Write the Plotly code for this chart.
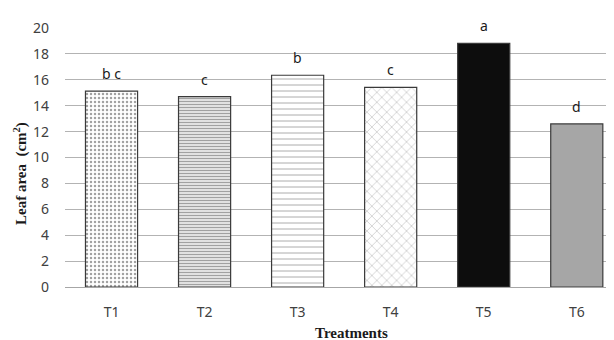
import plotly.graph_objects as go

treatments = ["T1", "T2", "T3", "T4", "T5", "T6"]
leaf_area = [15.13, 14.7, 16.35, 15.42, 18.82, 12.59]
letters = ["b c", "c", "b", "c", "a", "d"]

shapes = [".", "-", "-", "x", "", ""]
fills = ["white", "white", "white", "white", "#0d0d0d", "#a6a6a6"]
fg = ["#333333", "#262626", "#333333", "#333333", "#0d0d0d", "#a6a6a6"]
psize = [4, 3, 6, 7, 8, 8]
psolid = [0.3, 0.55, 0.15, 0.12, 0.3, 0.3]

# page body has an 8px default margin: figure origin sits at (8, 8)
OFF = 8
W, H = 614 - OFF, 340 - OFF
L, R, T, B = 65 - OFF, 0, 28 - OFF, H - (287 - OFF)
pw, ph = W - L - R, H - T - B

def px_x(x):
    return (x - OFF - L) / pw

def px_y(y):
    return (H - B - (y - OFF)) / ph

fig = go.Figure()
fig.add_trace(go.Bar(
    x=treatments, y=leaf_area,
    cliponaxis=False,
    marker=dict(
        color=fills,
        line=dict(color="#3a3a3a", width=1.2),
        pattern=dict(shape=shapes, fgcolor=fg, bgcolor=fills, size=psize,
                     solidity=psolid, fillmode="overlay"),
    ),
    width=0.56,
))

annotations = []
for t, v, lab in zip(treatments, leaf_area, letters):
    annotations.append(dict(x=t, y=v, xref="x", yref="y", text=lab, showarrow=False,
                            yanchor="bottom", yshift=6,
                            font=dict(family="Noto Sans, Open Sans, sans-serif", size=14, color="#1a1a1a")))
annotations.append(dict(text="<b>Leaf area  (cm<sup>2</sup>)</b>",
                        x=px_x(20), y=px_y(174), xref="paper", yref="paper",
                        xanchor="center", yanchor="middle",
                        showarrow=False, textangle=-90,
                        font=dict(family="Liberation Serif, Times New Roman, serif", size=15, color="#1a1a1a")))
annotations.append(dict(text="<b>Treatments</b>",
                        x=px_x(351), y=px_y(333), xref="paper", yref="paper",
                        xanchor="center", yanchor="middle",
                        showarrow=False,
                        font=dict(family="Liberation Serif, Times New Roman, serif", size=15, color="#1a1a1a")))

fig.update_layout(
    width=W, height=H,
    margin=dict(l=L, r=R, t=T, b=B, autoexpand=False),
    paper_bgcolor="white", plot_bgcolor="white",
    showlegend=False,
    font=dict(family="Noto Sans, Open Sans, sans-serif", size=12, color="#404040"),
    annotations=annotations,
)

fig.update_xaxes(range=[-0.5, 5.4], showgrid=False, showline=True, linecolor="#a6a6a6",
                 linewidth=1, ticks="", ticklabelstandoff=12, automargin=False,
                 tickfont=dict(size=14, color="#404040"))
fig.update_yaxes(range=[0, 20], dtick=2, showgrid=True, gridcolor="#b3b3b3", gridwidth=1,
                 zeroline=False, showline=False, ticks="", ticklabelstandoff=15, automargin=False,
                 tickfont=dict(size=14, color="#404040"))

fig.write_html("out.html")
